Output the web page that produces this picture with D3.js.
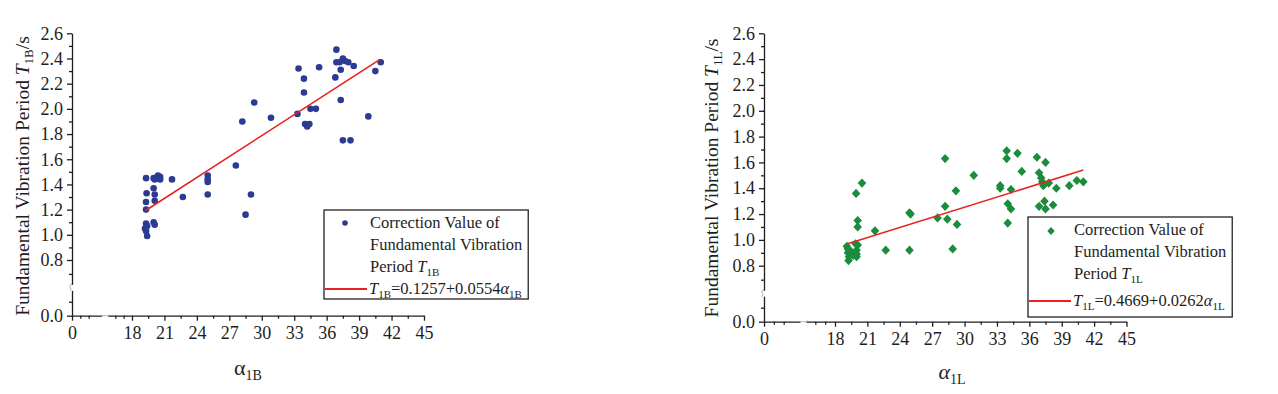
<!DOCTYPE html>
<html><head><meta charset="utf-8">
<script src="https://cdn.jsdelivr.net/npm/d3@7"></script>
<style>
body{margin:0;background:#fff}
svg{display:block}
text{font-family:"Liberation Serif","DejaVu Serif",serif;fill:#1e1e1e}
</style>
</head><body><svg id="c" width="1278" height="394"></svg>
<script>
// ---------- data ----------
const xTicks=[0,18,21,24,27,30,33,36,39,42,45];
const xMinorTicks=[2.5,5,13,15.5,19.5,22.5,25.5,28.5,31.5,34.5,37.5,40.5,43.5];
const yTicks=[0.0,0.8,1.0,1.2,1.4,1.6,1.8,2.0,2.2,2.4,2.6];
const yMinorTicks=[0.2,0.6,0.9,1.1,1.3,1.5,1.7,1.9,2.1,2.3,2.5];

const alphaB=[19.3,19.35,19.3,19.3,19.3,19.4,19.2,19.3,19.4,
 20.0,20.1,20.4,20.6,20.6,20.0,20.1,20.1,20.0,20.1,
 21.7,22.7,25.0,25.0,25.0,25.0,27.6,28.5,29.0,
 28.2,29.3,30.85,33.3,33.4,33.9,33.9,34.0,34.2,34.4,34.5,35.0,35.3,
 36.8,36.9,36.9,37.2,37.5,37.7,38.0,37.3,37.3,37.5,38.2,38.5,39.85,40.5,41.0];
const periodB=[1.45,1.33,1.26,1.20,1.09,1.07,1.05,1.03,0.99,
 1.45,1.44,1.47,1.46,1.44,1.37,1.32,1.27,1.10,1.08,
 1.44,1.30,1.47,1.44,1.42,1.32,1.55,1.16,1.32,
 1.90,2.05,1.93,1.96,2.32,2.24,2.13,1.88,1.86,1.88,2.00,2.00,2.33,
 2.25,2.47,2.37,2.37,2.40,2.38,2.37,2.31,2.07,1.75,1.75,2.34,1.94,2.30,2.37];

const alphaL=[19.1,19.2,19.2,19.25,19.3,19.5,19.7,19.9,20.0,20.0,20.1,20.0,
 19.95,20.5,20.1,20.1,21.7,22.7,24.9,25.0,24.9,27.5,28.2,28.2,28.4,28.9,29.2,29.3,30.85,
 33.3,33.3,33.9,33.9,34.0,34.3,34.0,34.3,34.9,35.3,36.7,36.9,37.1,37.2,37.3,37.5,
 36.9,37.4,37.5,38.2,37.8,38.5,39.7,40.4,41.0];
const periodL=[0.95,0.93,0.90,0.84,0.87,0.91,0.88,0.97,0.92,0.87,0.96,0.89,
 1.36,1.44,1.15,1.10,1.07,0.92,1.21,1.20,0.92,1.17,1.63,1.26,1.16,0.93,1.38,1.12,1.50,
 1.42,1.40,1.69,1.63,1.28,1.24,1.13,1.39,1.67,1.53,1.64,1.52,1.48,1.45,1.42,1.60,
 1.26,1.30,1.24,1.27,1.44,1.40,1.42,1.46,1.45];

const fitBCoef=[0.1257,0.0554], fitBRange=[19.3,40.9];
const fitLCoef=[0.4669,0.0262], fitLRange=[19.1,41.0];

const legendLines=["Correction Value of","Fundamental Vibration","Period "];

// ---------- drawing ----------
const svg=d3.select("#c");
const FONT='"Liberation Serif","DejaVu Serif",serif';

function panel(cfg){
  const g=svg.append("g");
  const x=d3.scaleLinear().domain([0,18,45]).range([cfg.x0,cfg.x18,cfg.x45]);
  const y=d3.scaleLinear().domain([0,0.8,2.6]).range([cfg.yb,cfg.y08,cfg.y26]);

  g.append("g").attr("transform",`translate(0,${cfg.yb})`)
   .call(d3.axisBottom(x).tickValues(xMinorTicks).tickSize(3).tickFormat(""))
   .call(s=>s.select(".domain").remove());
  const xa=g.append("g").attr("transform",`translate(0,${cfg.yb})`)
   .call(d3.axisBottom(x).tickValues(xTicks).tickSize(5).tickSizeOuter(0).tickPadding(6).tickFormat(d3.format("d")));
  xa.selectAll("text").style("font-size","18px").style("font-family",FONT).attr("fill","#1e1e1e");
  g.append("g").attr("transform",`translate(${cfg.x0},0)`)
   .call(d3.axisLeft(y).tickValues(yMinorTicks).tickSize(3).tickFormat(""))
   .call(s=>s.select(".domain").remove());
  const ya=g.append("g").attr("transform",`translate(${cfg.x0},0)`)
   .call(d3.axisLeft(y).tickValues(yTicks).tickSize(5).tickSizeOuter(0).tickPadding(4).tickFormat(d3.format(".1f")));
  ya.selectAll("text").style("font-size","18px").style("font-family",FONT).attr("fill","#1e1e1e");
  g.selectAll(".domain,.tick line").attr("stroke","#1e1e1e").attr("stroke-width",1.3);

  // axis breaks
  const by=y(0.4), bx=x(10);
  g.append("rect").attr("x",cfg.x0-2).attr("y",by-3).attr("width",4).attr("height",6).attr("fill","#fff");
  g.append("path").attr("d",`M${cfg.x0-2},${by+3} q2,-2 0,-4 q-1,-2 2,-3`).attr("fill","none").attr("stroke","#999").attr("stroke-width",0.8);
  g.append("rect").attr("x",bx-3).attr("y",cfg.yb-2).attr("width",6).attr("height",4).attr("fill","#fff");
  g.append("path").attr("d",`M${bx-4},${cfg.yb+1} q2,-2 4,-1 q2,1 4,-1`).attr("fill","none").attr("stroke","#999").attr("stroke-width",0.8);

  const pts=cfg.xs.map((v,i)=>[v,cfg.ys[i]]);
  if(cfg.marker==="circle"){
    g.selectAll("circle.p").data(pts).join("circle").attr("class","p")
     .attr("cx",d=>x(d[0])).attr("cy",d=>y(d[1])).attr("r",3.3).attr("fill",cfg.color);
  } else {
    g.selectAll("path.p").data(pts).join("path").attr("class","p")
     .attr("d","M0,-4.6L4.3,0L0,4.6L-4.3,0Z")
     .attr("transform",d=>`translate(${x(d[0])},${y(d[1])})`).attr("fill",cfg.color);
  }
  const f=v=>cfg.coef[0]+cfg.coef[1]*v;
  g.append("line").attr("x1",x(cfg.range[0])).attr("y1",y(f(cfg.range[0])))
   .attr("x2",x(cfg.range[1])).attr("y2",y(f(cfg.range[1])))
   .attr("stroke","#e8231f").attr("stroke-width",1.6);

  const yl=g.append("text").attr("transform",`translate(${cfg.ylx},${cfg.yly}) rotate(-90)`)
   .attr("text-anchor","middle").style("font-size","19.5px");
  yl.append("tspan").text("Fundamental Vibration Period ");
  yl.append("tspan").attr("font-style","italic").text("T");
  yl.append("tspan").attr("dy",4).style("font-size","13px").text(cfg.sub);
  yl.append("tspan").attr("dy",-4).text("/s");

  const xl=g.append("text").attr("x",cfg.xlx).attr("y",cfg.xly).attr("text-anchor","middle").style("font-size","22px");
  xl.append("tspan").attr("font-style",cfg.alphaItalic?"italic":"normal").text("α");
  xl.append("tspan").attr("dy",5).style("font-size","14px").text(cfg.sub);

  const lg=g.append("g");
  const box=lg.append("rect").attr("x",cfg.lx).attr("y",cfg.ly).attr("height",cfg.lh)
   .attr("fill","#fff").attr("stroke","#222").attr("stroke-width",1.3);
  const tx=cfg.lx+46;
  if(cfg.marker==="circle"){
    lg.append("circle").attr("cx",cfg.lx+21).attr("cy",cfg.ly+13).attr("r",2.8).attr("fill",cfg.color);
  } else {
    lg.append("path").attr("d","M0,-4L3.7,0L0,4L-3.7,0Z").attr("transform",`translate(${cfg.lx+23},${cfg.ly+14})`).attr("fill",cfg.color);
  }
  const texts=[];
  legendLines.forEach((s,i)=>{
    const t=lg.append("text").attr("x",tx).attr("y",cfg.ly+18+i*22).style("font-size","16.5px");
    t.append("tspan").text(s);
    if(i===2){
      t.append("tspan").attr("font-style","italic").text("T");
      t.append("tspan").attr("dy",4).style("font-size","11px").text(cfg.sub);
    }
    texts.push(t);
  });
  const ey=cfg.ly+cfg.eqy;
  lg.append("line").attr("x1",cfg.lx+1).attr("x2",cfg.lx+43).attr("y1",ey-5).attr("y2",ey-5)
   .attr("stroke","#e8231f").attr("stroke-width",2.2);
  const et=lg.append("text").attr("x",tx-1).attr("y",ey).style("font-size","16.5px");
  et.append("tspan").attr("font-style","italic").text("T");
  et.append("tspan").attr("dy",4).style("font-size","11px").text(cfg.sub);
  et.append("tspan").attr("dy",-4).text(`=${cfg.coef[0].toFixed(4)}+${cfg.coef[1].toFixed(4)}`);
  et.append("tspan").attr("font-style","italic").text("α");
  et.append("tspan").attr("dy",4).style("font-size","11px").text(cfg.sub);
  texts.push(et);
  const maxR=d3.max(texts,t=>{const b=t.node().getBBox();return b.x+b.width;});
  box.attr("width",maxR-cfg.lx+6);
}

panel({x0:72,x18:132,x45:424,yb:315.7,y08:260,y26:33.3,
  xs:alphaB,ys:periodB,coef:fitBCoef,range:fitBRange,marker:"circle",color:"#2c3b92",
  sub:"1B",ylx:29,yly:176,xlx:248,xly:375,alphaItalic:false,
  lx:324,ly:210,lh:89,eqy:84});
panel({x0:764,x18:835,x45:1126.5,yb:321.7,y08:265.7,y26:33.3,
  xs:alphaL,ys:periodL,coef:fitLCoef,range:fitLRange,marker:"diamond",color:"#1b8c3c",
  sub:"1L",ylx:718,yly:178,xlx:952,xly:379,alphaItalic:true,
  lx:1028,ly:217,lh:100,eqy:89});
</script>
</body></html>
